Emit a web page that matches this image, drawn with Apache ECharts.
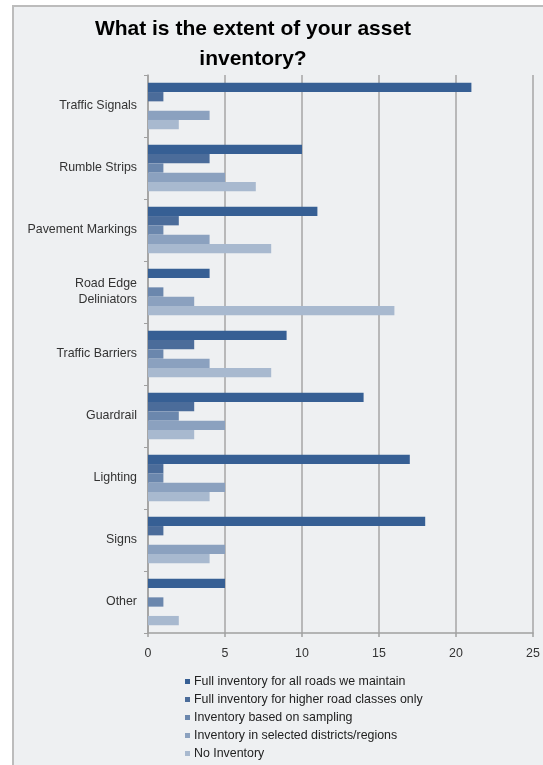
<!DOCTYPE html>
<html>
<head>
<meta charset="utf-8">
<script src="https://cdn.jsdelivr.net/npm/echarts@6/dist/echarts.min.js"></script>
<style>
html,body{margin:0;padding:0;background:#ffffff;}
#c{width:543px;height:765px;}
</style>
</head>
<body>
<div id="c"></div>
<script>
const categories = ['Traffic Signals','Rumble Strips','Pavement Markings','Road Edge\nDeliniators','Traffic Barriers','Guardrail','Lighting','Signs','Other'];
const seriesNames = ['Full inventory for all roads we maintain','Full inventory for higher road classes only','Inventory based on sampling','Inventory in selected districts/regions','No Inventory'];
const fullAll     = [21, 10, 11, 4, 9, 14, 17, 18, 5];
const fullHigher  = [1, 4, 2, 0, 3, 3, 1, 1, 0];
const sampling    = [0, 1, 1, 1, 1, 2, 1, 0, 1];
const selected    = [4, 5, 4, 3, 4, 5, 5, 5, 0];
const noInventory = [2, 7, 8, 16, 8, 3, 4, 4, 2];
const xTicks = [0, 5, 10, 15, 20, 25];

const colors = ['#365f94', '#4b6c9a', '#6b87ad', '#8ba1bf', '#a8b9cf'];
const values = [fullAll, fullHigher, sampling, selected, noInventory];

const chart = echarts.init(document.getElementById('c'), null, {renderer:'canvas'});
const font = 'Liberation Sans, Arial, sans-serif';
chart.setOption({
  animation: false,
  backgroundColor: '#ffffff',
  graphic: [{
    type: 'rect', z: -10, silent: true,
    shape: {x: 13, y: 6, width: 600, height: 800},
    style: {fill: '#eef0f2', stroke: '#bcbcbc', lineWidth: 2}
  }],
  title: {
    text: 'What is the extent of your asset\ninventory?',
    left: 248, textAlign: 'center', top: 9,
    textStyle: {fontFamily: font, fontSize: 21, fontWeight: 'bold', color: '#000', lineHeight: 30}
  },
  legend: {
    orient: 'vertical', left: 180, top: 670, height: 100,
    itemWidth: 5, itemHeight: 5, itemGap: 5,
    icon: 'rect',
    textStyle: {fontFamily: font, fontSize: 12.4, color: '#222', lineHeight: 13, padding: [0,0,0,-1]},
    data: seriesNames
  },
  grid: {left: 148, right: 10, top: 75, bottom: 132, containLabel: false},
  xAxis: {
    type: 'value', min: 0, max: 25, interval: 5,
    axisLine: {show: true, lineStyle: {color: '#a0a0a0', width: 1.5}},
    axisTick: {show: true, length: 4, lineStyle: {color: '#a0a0a0', width: 1.5}},
    axisLabel: {fontFamily: font, fontSize: 12.4, color: '#333', margin: 15,
      formatter: v => xTicks.includes(v) ? String(v) : ''},
    splitLine: {show: true, lineStyle: {color: '#a6a6a6', width: 1.5}}
  },
  yAxis: {
    type: 'category', inverse: true, data: categories,
    axisLine: {show: true, lineStyle: {color: '#a0a0a0', width: 1.5}},
    axisTick: {show: true, length: 4, lineStyle: {color: '#a0a0a0', width: 1}},
    axisLabel: {fontFamily: font, fontSize: 12.4, color: '#333', margin: 11, lineHeight: 16, align: 'right', padding: [6,0,0,0]},
    splitLine: {show: false}
  },
  series: seriesNames.map((n, i) => ({
    name: n, type: 'bar', data: values[i],
    barGap: '0%', barCategoryGap: '25%',
    itemStyle: {color: colors[i]}
  }))
});
</script>
</body>
</html>
